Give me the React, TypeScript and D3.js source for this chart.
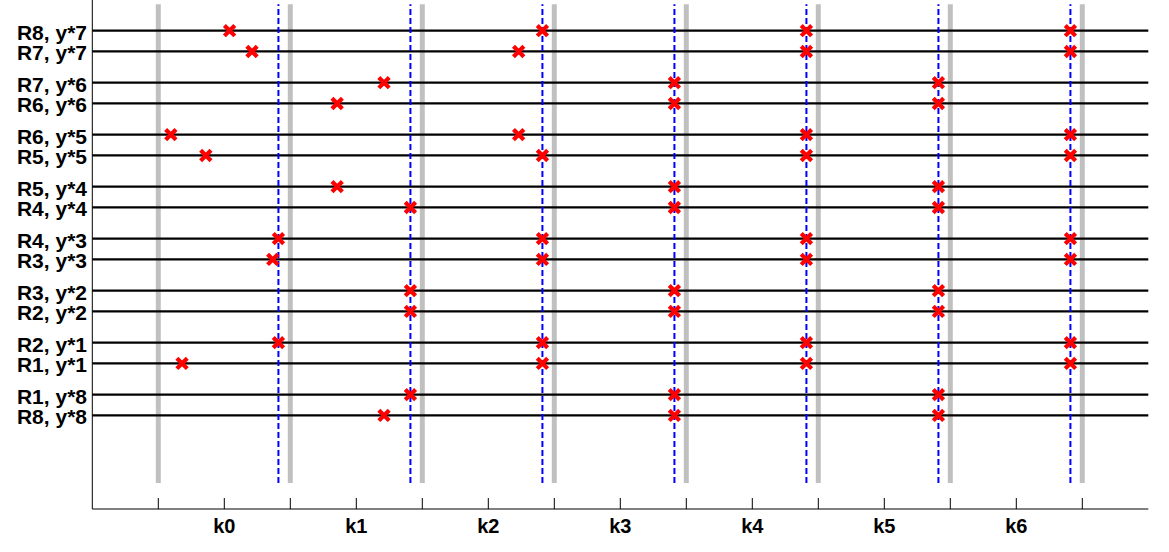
import React from "react";
import * as d3 from "d3";

const categories = ["k0", "k1", "k2", "k3", "k4", "k5", "k6"];
const rowLabels = [
  "R8, y*7", "R7, y*7", "R7, y*6", "R6, y*6", "R6, y*5", "R5, y*5", "R5, y*4", "R4, y*4",
  "R4, y*3", "R3, y*3", "R3, y*2", "R2, y*2", "R2, y*1", "R1, y*1", "R1, y*8", "R8, y*8",
];
const rowY = [9.2, 8.8, 8.2, 7.8, 7.2, 6.8, 6.2, 5.8, 5.2, 4.8, 4.2, 3.8, 3.2, 2.8, 2.2, 1.8];
const rowMarks = [
  [0.04, 2.41, 4.41, 6.41],
  [0.21, 2.23, 4.41, 6.41],
  [1.21, 3.41, 5.41],
  [0.855, 3.41, 5.41],
  [-0.405, 2.23, 4.41, 6.41],
  [-0.14, 2.41, 4.41, 6.41],
  [0.855, 3.41, 5.41],
  [1.41, 3.41, 5.41],
  [0.41, 2.41, 4.41, 6.41],
  [0.367, 2.41, 4.41, 6.41],
  [1.41, 3.41, 5.41],
  [1.41, 3.41, 5.41],
  [0.41, 2.41, 4.41, 6.41],
  [-0.32, 2.41, 4.41, 6.41],
  [1.41, 3.41, 5.41],
  [1.21, 3.41, 5.41],
];
const blueLines = [0.41, 1.41, 2.41, 3.41, 4.41, 5.41, 6.41];
const grayBars = [-0.5, 0.5, 1.5, 2.5, 3.5, 4.5, 5.5, 6.5];
const tickValues = [-0.5, 0, 0.5, 1, 1.5, 2, 2.5, 3, 3.5, 4, 4.5, 5, 5.5, 6, 6.5];

export default function App() {
  const W = 1169, H = 552;
  const x = d3.scaleLinear().domain([-1, 7]).range([92.3, 1148.3]);
  const y = d3.scaleLinear().domain([0, 9.79]).range([509, 0]);
  const font = "'Liberation Sans', Arial, sans-serif";
  const marker = "M-5.2,-5.2L5.2,5.2M-5.2,5.2L5.2,-5.2";
  return (
    <svg width={W} height={H} style={{ position: "absolute", left: 0, top: 0, background: "#fff" }}>
      <rect width={W} height={H} fill="#fff" />
      {grayBars.map((v, i) => (
        <line key={"g" + i} x1={x(v)} x2={x(v)} y1={y(0.5)} y2={y(9.71)} stroke="#c0c0c0" strokeWidth={5} />
      ))}
      {rowY.map((v, i) => (
        <line key={"h" + i} x1={x(-1)} x2={x(7)} y1={y(v)} y2={y(v)} stroke="#000" strokeWidth={2.2} />
      ))}
      {blueLines.map((v, i) => (
        <line key={"b" + i} x1={x(v)} x2={x(v)} y1={y(0.5)} y2={y(9.71)} stroke="#0000ff" strokeWidth={2} strokeDasharray="6,3" />
      ))}
      {rowMarks.map((vals, r) =>
        vals.map((v, j) => (
          <path key={"m" + r + "_" + j} d={marker} transform={`translate(${x(v)},${y(rowY[r])})`}
            stroke="#ff0000" strokeWidth={4.2} fill="none" />
        ))
      )}
      <line x1={x(-1)} x2={x(-1)} y1={y(9.79)} y2={y(0)} stroke="#000" strokeWidth={1} />
      <line x1={x(-1)} x2={x(7)} y1={y(0)} y2={y(0)} stroke="#000" strokeWidth={1} />
      {tickValues.map((v, i) => (
        <line key={"t" + i} x1={x(v)} x2={x(v)} y1={y(0)} y2={y(0) - 11} stroke="#000" strokeWidth={1} />
      ))}
      {categories.map((c, i) => (
        <text key={"c" + i} x={x(i)} y={533} textAnchor="middle" fontFamily={font} fontWeight="bold" fontSize={20} fill="#000">{c}</text>
      ))}
      {rowLabels.map((l, i) => (
        <text key={"l" + i} x={87} y={y(rowY[i]) + 9} textAnchor="end" fontFamily={font} fontWeight="bold" fontSize={21} fill="#000">{l}</text>
      ))}
    </svg>
  );
}
